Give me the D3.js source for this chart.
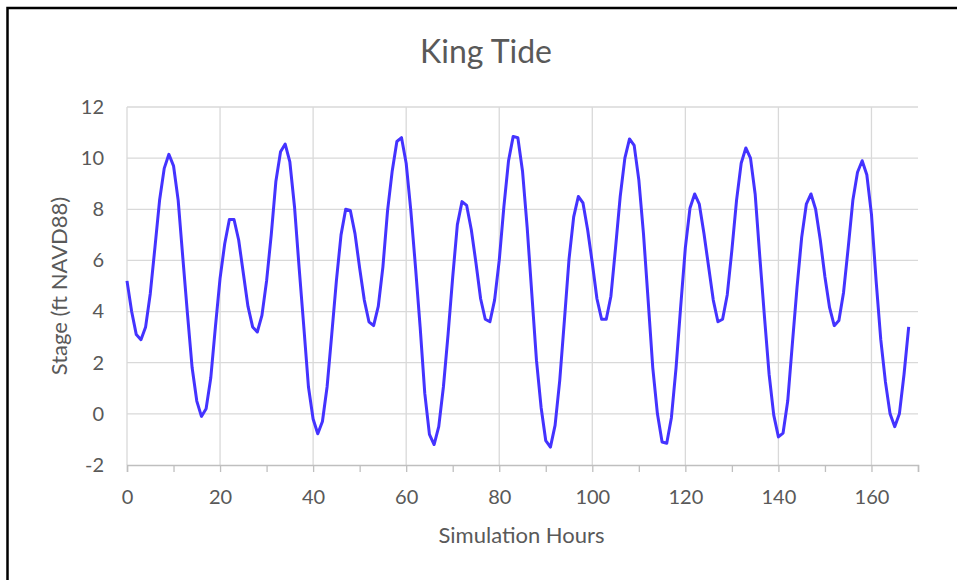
<!DOCTYPE html>
<head>
<meta charset="utf-8">
<script src="https://d3js.org/d3.v7.min.js"></script>
<style>
body { margin: 0; background-color: #ffffff; }
text { font-family: Lato, "Open Sans", sans-serif; fill: #595959; font-weight: 400; }
</style>
</head>
<body>
<div id="my_dataviz"></div>
<script>

// hourly stage readings (ft NAVD88), hour 0 .. 168
var stage = [
  5.2, 4.0, 3.1, 2.9, 3.4, 4.7, 6.5, 8.35, 9.6, 10.15,
  9.7, 8.35, 6.1, 3.9, 1.8, 0.5, -0.1, 0.2, 1.4, 3.4,
  5.3, 6.65, 7.6, 7.6, 6.8, 5.5, 4.2, 3.4, 3.2, 3.85,
  5.2, 7.0, 9.1, 10.25, 10.55, 9.85, 8.1, 5.7, 3.4, 1.05,
  -0.2, -0.78, -0.3, 1.05, 3.1, 5.2, 7.0, 8.0, 7.95, 7.05,
  5.7, 4.45, 3.6, 3.45, 4.2, 5.75, 7.95, 9.5, 10.65, 10.8,
  9.8, 7.95, 5.75, 3.4, 0.8, -0.8, -1.2, -0.5, 1.05, 3.1,
  5.35, 7.4, 8.3, 8.15, 7.2, 5.9, 4.5, 3.7, 3.6, 4.45,
  6.0, 8.1, 9.9, 10.85, 10.8, 9.5, 7.3, 4.7, 2.1, 0.25,
  -1.05, -1.3, -0.45, 1.3, 3.65, 6.05, 7.7, 8.5, 8.25, 7.2,
  5.9, 4.5, 3.7, 3.7, 4.6, 6.5, 8.5, 10.0, 10.75, 10.5,
  9.15, 7.05, 4.45, 1.8, 0.0, -1.1, -1.15, -0.15, 1.8, 4.2,
  6.5, 8.05, 8.6, 8.2, 7.05, 5.75, 4.45, 3.6, 3.7, 4.65,
  6.4, 8.35, 9.8, 10.4, 10.0, 8.6, 6.15, 3.8, 1.55, -0.05,
  -0.9, -0.75, 0.5, 2.75, 4.95, 6.9, 8.2, 8.6, 8.0, 6.8,
  5.35, 4.15, 3.45, 3.65, 4.75, 6.5, 8.35, 9.45, 9.9, 9.35,
  7.8, 5.2, 2.9, 1.25, 0.0, -0.5, 0.0, 1.55, 3.4
];
var hours = d3.range(stage.length);
var xTicks = [0, 20, 40, 60, 80, 100, 120, 140, 160];
var xMinorTicks = d3.range(0, 171, 10);
var yTicks = [-2, 0, 2, 4, 6, 8, 10, 12];
var chartTitle = "King Tide";
var xTitle = "Simulation Hours";
var yTitle = "Stage (ft NAVD88)";

var width = 957, height = 580;
var margin = {top: 107, right: 39, bottom: 115, left: 127};

var svg = d3.select("#my_dataviz")
  .append("svg")
    .attr("width", width)
    .attr("height", height);

// outer frame
svg.append("rect")
  .attr("x", 7.5).attr("y", 8)
  .attr("width", width + 10).attr("height", height + 10)
  .style("fill", "none")
  .style("stroke", "black")
  .style("stroke-width", 2.5);

var g = svg.append("g")
  .attr("transform", "translate(" + margin.left + "," + margin.top + ")");

var w = width - margin.left - margin.right,
    h = height - margin.top - margin.bottom;

var x = d3.scaleLinear().domain([0, 170]).range([0, w]);
var y = d3.scaleLinear().domain([-2, 12]).range([h, 0]);

// horizontal gridlines
g.selectAll(".hgrid")
  .data(yTicks.filter(function(d){ return d > -2; }))
  .enter().append("line")
    .attr("x1", 0).attr("x2", w)
    .attr("y1", function(d){ return y(d); })
    .attr("y2", function(d){ return y(d); })
    .style("stroke", "#d9d9d9")
    .style("stroke-width", 1.3);

// vertical gridlines
g.selectAll(".vgrid")
  .data(xTicks)
  .enter().append("line")
    .attr("x1", function(d){ return x(d); })
    .attr("x2", function(d){ return x(d); })
    .attr("y1", 0).attr("y2", h)
    .style("stroke", "#d9d9d9")
    .style("stroke-width", 1.3);

// bottom axis with minor ticks
var xAxis = g.append("g")
  .attr("transform", "translate(0," + h + ")")
  .call(d3.axisBottom(x).tickValues(xMinorTicks).tickSize(7).tickSizeOuter(7).tickFormat(""));
xAxis.select(".domain").style("stroke", "#bfbfbf").style("stroke-width", 1.5);
xAxis.selectAll(".tick line").style("stroke", "#bfbfbf").style("stroke-width", 1.3);

var plainNum = function(d){ return String(d); };

var xLabels = g.append("g")
  .attr("transform", "translate(0," + h + ")")
  .call(d3.axisBottom(x).tickValues(xTicks).tickSize(0).tickPadding(25).tickFormat(plainNum));
xLabels.select(".domain").remove();
xLabels.selectAll("text").style("font-size", "20px").style("fill", "#595959")
  .style("font-family", "Lato, sans-serif").style("font-weight", 400);

var yAxis = g.append("g")
  .call(d3.axisLeft(y).tickValues(yTicks).tickSize(0).tickPadding(23).tickFormat(plainNum));
yAxis.select(".domain").remove();
yAxis.selectAll("text").style("font-size", "20px").style("fill", "#595959")
  .style("font-family", "Lato, sans-serif").style("font-weight", 400);

// the tide line
var line = d3.line()
  .x(function(d, i){ return x(hours[i]); })
  .y(function(d){ return y(d); });

g.append("path")
  .datum(stage)
  .attr("d", line)
  .style("fill", "none")
  .style("stroke", "#4433ff")
  .style("stroke-width", 3)
  .style("stroke-linejoin", "round");

// titles
svg.append("text")
  .attr("x", 486).attr("y", 63)
  .attr("text-anchor", "middle")
  .style("font-size", "32px")
  .text(chartTitle);

svg.append("text")
  .attr("x", margin.left + w / 2 - 1).attr("y", 543)
  .attr("text-anchor", "middle")
  .style("font-size", "22px")
  .text(xTitle);

svg.append("text")
  .attr("transform", "translate(67," + (margin.top + h / 2) + ") rotate(-90)")
  .attr("text-anchor", "middle")
  .style("font-size", "22px")
  .text(yTitle);

</script>
</body>
